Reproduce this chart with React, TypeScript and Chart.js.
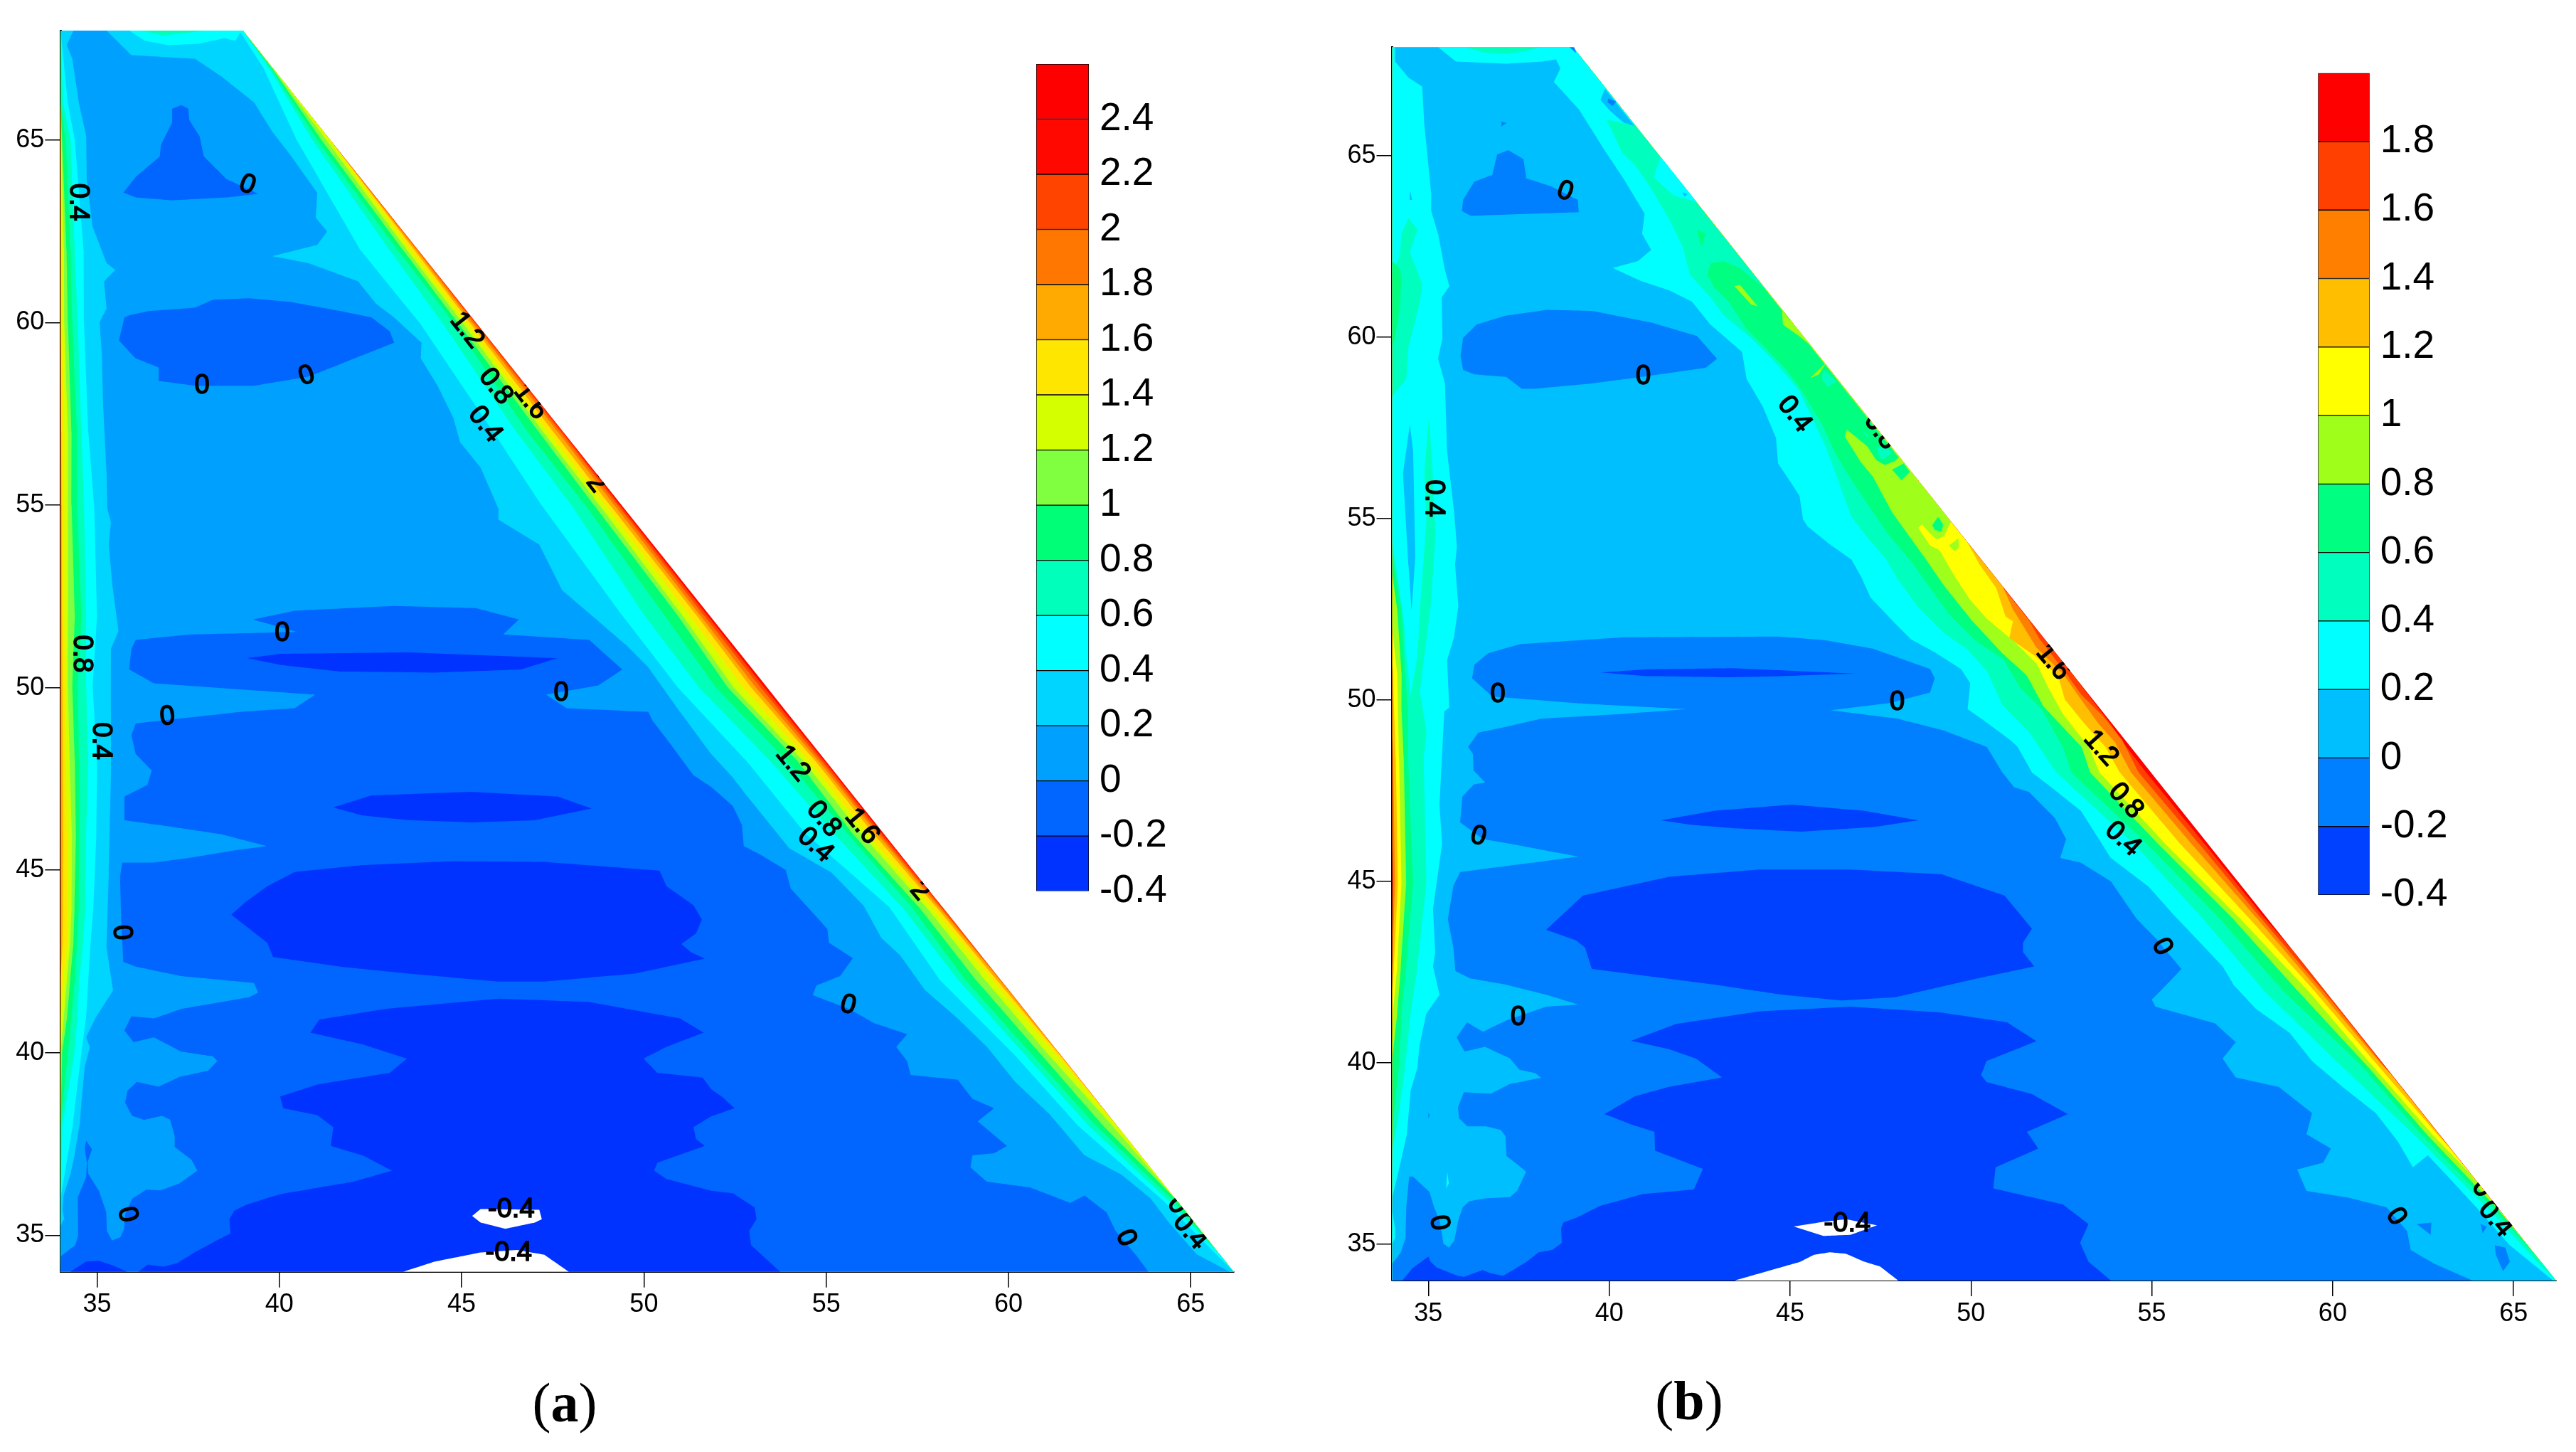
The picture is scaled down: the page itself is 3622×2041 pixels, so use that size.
import React, { useEffect, useRef } from "react";
import { Chart, registerables } from "chart.js";

Chart.register(...registerables);

type P = [number, number];
type L = [string, number, number, number];

const FONT = '"Liberation Sans", Arial, sans-serif';
const xTickValues = [35, 40, 45, 50, 55, 60, 65];
const yTickValues = [35, 40, 45, 50, 55, 60, 65];
const X_MIN = 34;
const X_TIP = 66.18;
const X_TOP = 39;
const Y_MIN = 34;
const Y_MAX = 68;

/* ---------- colour bars ---------- */
const barColorsA = ["#0033ff", "#0066ff", "#00a0ff", "#00d5ff", "#00ffff", "#00ffbb", "#00ff77", "#7fff3f", "#d4ff00", "#ffe600", "#ffaa00", "#ff7700", "#ff4400", "#ff0800", "#ff0000"];
const barColorsB = ["#0040ff", "#0080ff", "#00bfff", "#00ffff", "#00ffbf", "#00ff80", "#9fff1a", "#ffff00", "#ffbf00", "#ff8000", "#ff4000", "#ff0000"];
const barEdgesA = [-0.4, -0.2, 0, 0.2, 0.4, 0.6, 0.8, 1, 1.2, 1.4, 1.6, 1.8, 2, 2.2, 2.4, 2.6];
const barEdgesB = [-0.4, -0.2, 0, 0.2, 0.4, 0.6, 0.8, 1, 1.2, 1.4, 1.6, 1.8, 2];
const barTicksA = [-0.4, -0.2, 0, 0.2, 0.4, 0.6, 0.8, 1, 1.2, 1.4, 1.6, 1.8, 2, 2.2, 2.4];
const barTicksB = [-0.4, -0.2, 0, 0.2, 0.4, 0.6, 0.8, 1, 1.2, 1.4, 1.6, 1.8];

/* ---------- panel (a): contour offsets ---------- */
const aRightY = [68, 67, 65, 62, 60, 57, 55, 52, 50, 48, 46, 44, 42, 40, 38, 36, 34.5, 34];
const aRight04 = [0.1, 0.25, 0.92, 1.58, 1.55, 1.92, 2.2, 2.4, 2.45, 2.18, 2.15, 1.46, 1.67, 1.27, 1.07, 0.39, 0.1, 0];
const aRight06 = [0, 0.1, 0.49, 0.78, 0.93, 1.29, 1.38, 1.79, 1.87, 1.53, 1.37, 1.11, 1.17, 0.98, 0.78, 0.24, 0, 0];
const aRight08 = [0, 0.05, 0.36, 0.56, 0.62, 0.98, 1, 1.24, 1.41, 1.07, 1, 0.85, 0.97, 0.78, 0.58, 0.11, 0, 0];
const aRight10 = [0, 0.02, 0.24, 0.41, 0.5, 0.67, 0.76, 0.88, 1.08, 0.78, 0.86, 0.65, 0.68, 0.53, 0.38, 0, 0, 0];
const aRight12 = [0, 0, 0.11, 0.3, 0.37, 0.55, 0.61, 0.75, 0.92, 0.62, 0.62, 0.45, 0.43, 0.33, 0.13, 0, 0, 0];
const aRight14 = [0, 0, 0, 0.2, 0.27, 0.42, 0.45, 0.55, 0.66, 0.46, 0.47, 0.3, 0.23, 0.13, 0, 0, 0, 0];
const aRight16 = [0, 0, 0, 0.1, 0.17, 0.27, 0.32, 0.36, 0.44, 0.29, 0.29, 0.17, 0.11, 0.03, 0, 0, 0, 0];
const aRight18 = [0, 0, 0, 0.04, 0.1, 0.15, 0.2, 0.26, 0.31, 0.2, 0.19, 0.1, 0.03, 0, 0, 0, 0, 0];
const aRight20 = [0, 0, 0, 0, 0.04, 0.07, 0.11, 0.16, 0.18, 0.12, 0.12, 0.05, 0, 0, 0, 0, 0, 0];
const aRight22 = [0, 0, 0, 0, 0, 0.02, 0.05, 0.07, 0.08, 0.05, 0.05, 0, 0, 0, 0, 0, 0, 0];

const aLeftY = [68, 66, 65, 62, 60, 57, 55, 52, 50, 48, 46, 44, 43, 42, 41, 40, 38, 36, 34];
const aLeft04 = [0, 0.2, 0.39, 0.63, 0.64, 0.76, 0.92, 1, 0.88, 1, 0.98, 0.9, 0.82, 0.76, 0.7, 0.57, 0.33, 0, 0];
const aLeft06 = [0, 0.07, 0.27, 0.39, 0.47, 0.57, 0.64, 0.7, 0.7, 0.76, 0.7, 0.68, 0.61, 0.51, 0.46, 0.38, 0.05, 0, 0];
const aLeft08 = [0, 0, 0.14, 0.27, 0.32, 0.45, 0.45, 0.57, 0.47, 0.51, 0.51, 0.5, 0.45, 0.39, 0.3, 0.2, 0, 0, 0];
const aLeft10 = [0, 0, 0.04, 0.16, 0.2, 0.3, 0.3, 0.39, 0.32, 0.39, 0.42, 0.38, 0.35, 0.26, 0.18, 0.04, 0, 0, 0];
const aLeft12 = [0, 0, 0.02, 0.09, 0.1, 0.2, 0.2, 0.2, 0.2, 0.25, 0.31, 0.3, 0.26, 0.17, 0.09, 0, 0, 0, 0];
const aLeft14 = [0, 0, 0, 0.04, 0.04, 0.1, 0.1, 0.1, 0.12, 0.15, 0.17, 0.17, 0.17, 0.07, 0, 0, 0, 0, 0];
const aLeft16 = [0, 0, 0, 0, 0, 0.02, 0.03, 0.04, 0.05, 0.06, 0.07, 0.06, 0.05, 0, 0, 0, 0, 0, 0];
const aLeft18 = aLeftY.map(() => 0);
const aTop04: P[] = [[35.88, 68], [36.31, 67.72], [36.94, 67.6], [37.8, 67.64], [38.49, 67.79], [38.8, 67.72], [38.93, 67.95]];
const aTop06: P[] = [[36.19, 68], [36.81, 67.87], [37.56, 67.95], [37.93, 68]];

const aLine02: P[] = [[34, 34], [34, 35.25], [34.08, 35.44], [34.11, 35.38], [34.05, 35.7], [34.08, 36.09], [34.27, 36.68], [34.37, 37.13], [34.53, 38.1], [34.57, 38.63], [34.66, 39.6], [34.8, 40.16], [34.7, 40.42], [34.95, 40.94], [35.44, 41.71], [35.26, 42.88], [35.32, 44.95], [35.38, 47.66], [35.38, 49.34], [35.38, 51.06], [35.59, 51.56], [35.42, 52.8], [35.32, 53.92], [35.38, 54.54], [35.28, 54.91], [35.26, 55.91], [35.17, 57.65], [35.13, 59.14], [35.07, 60.01], [35.26, 60.39], [35.19, 61.13], [35.5, 61.44], [35.26, 61.63], [34.88, 62.62], [34.72, 63.87], [34.7, 65.11], [34.51, 65.98], [34.32, 67.23], [34.17, 67.6], [34.35, 68], [35.26, 68], [35.94, 67.33], [37.68, 67.23], [38.43, 66.73], [39.3, 66.04], [39.8, 65.24], [40.29, 64.61], [41.04, 63.56], [41, 62.87], [41.31, 62.5], [41.04, 62.13], [39.8, 61.82], [40.79, 61.63], [42.16, 61.13], [42.66, 60.51], [43.15, 60.14], [43.9, 59.45], [43.88, 59.02], [44.34, 58.27], [44.77, 57.4], [44.96, 56.72], [45.52, 56.03], [46.01, 54.91], [46.01, 54.6], [47.13, 53.92], [47.76, 52.67], [48.63, 51.93], [49.5, 51.18], [50.12, 50.56], [50.99, 49.34], [51.85, 48.18], [52.44, 47.54], [52.84, 47.02], [53.99, 45.6], [55.13, 44.95], [56.02, 44.04], [56.52, 43.14], [57.02, 42.68], [57.72, 41.71], [58.61, 40.94], [59.41, 40.16], [60.2, 39.19], [61.1, 38.35], [62.09, 37.19], [63.09, 36.67], [63.89, 36.02], [64.38, 35.38], [65.18, 34.47], [66.07, 34]];

const aLow0Top: P[] = [[37.31, 65.96], [37.06, 65.86], [37.06, 65.49], [36.75, 64.86], [36.72, 64.55], [36.06, 63.99], [35.72, 63.56], [36.06, 63.43], [37.06, 63.35], [38.55, 63.43], [39.42, 63.53], [38.55, 63.93], [37.93, 64.55], [37.81, 65.11], [37.53, 65.55], [37.5, 65.86]];
const aLow0Mid: P[] = [[35.75, 60.14], [35.6, 59.51], [36.06, 59.02], [36.69, 58.77], [36.69, 58.4], [37.68, 58.27], [39.3, 58.27], [40.79, 58.52], [41.91, 58.96], [43.15, 59.45], [43.03, 59.76], [42.53, 60.14], [41.66, 60.32], [40.29, 60.57], [39.17, 60.67], [38.18, 60.63], [37.68, 60.41], [36.44, 60.32], [35.88, 60.2]];
const aLow0Main: P[] = [[34, 34], [34.01, 34.43], [34.4, 34.73], [34.48, 34.99], [34.47, 36.03], [34.7, 36.6], [34.72, 37], [34.66, 37.39], [34.7, 37.59], [34.86, 37.36], [34.74, 37], [34.76, 36.68], [35.05, 36.22], [35.25, 35.64], [35.27, 35.12], [35.41, 34.86], [35.64, 34.95], [35.74, 35.18], [35.77, 35.57], [35.96, 36], [36.35, 36.25], [36.74, 36.23], [37.26, 36.42], [37.75, 36.77], [37.59, 37.07], [37.13, 37.42], [37.13, 37.72], [37, 38.17], [36.78, 38.27], [36.29, 38.16], [35.96, 38.27], [35.77, 38.63], [35.83, 38.95], [36.09, 39.2], [36.68, 39.07], [37.26, 39.34], [38.05, 39.51], [38.3, 39.77], [38.18, 39.9], [37.31, 40.03], [36.56, 40.42], [36, 40.29], [35.75, 40.61], [35.94, 41], [36.56, 40.94], [37.31, 41.2], [39.17, 41.52], [39.42, 41.65], [39.3, 41.91], [37.31, 42.1], [36.06, 42.36], [35.72, 42.49], [35.67, 43.4], [35.63, 44.82], [35.69, 45.21], [36.56, 45.21], [37.56, 45.34], [38.68, 45.53], [39.67, 45.66], [38.43, 45.98], [36.69, 46.24], [35.75, 46.37], [35.75, 47.02], [36.38, 47.34], [36.5, 47.73], [36.06, 48.18], [35.94, 48.7], [36.06, 49.02], [39.05, 49.35], [40.42, 49.44], [40.98, 49.81], [36.56, 50.12], [35.88, 50.5], [35.94, 51.06], [36.06, 51.31], [37.56, 51.46], [40.48, 51.53], [39.27, 51.87], [40.42, 52.11], [43.15, 52.24], [45.39, 52.18], [46.57, 51.87], [46.14, 51.46], [48.5, 51.31], [49.41, 50.5], [48.75, 50.06], [47.32, 49.81], [47.88, 49.44], [50.12, 49.34], [50.24, 49.09], [50.74, 48.44], [51.36, 47.6], [51.85, 47.28], [52.44, 46.76], [52.69, 46.24], [52.74, 45.66], [53.24, 45.4], [53.89, 45.01], [54.03, 44.5], [55.03, 43.4], [55.08, 43.01], [55.73, 42.59], [55.38, 42.1], [54.73, 41.84], [54.63, 41.58], [55.63, 41.2], [56.32, 40.81], [57.22, 40.51], [56.92, 40.16], [57.22, 39.77], [57.32, 39.39], [58.61, 39.26], [59.01, 38.74], [59.61, 38.48], [59.16, 38.12], [59.96, 37.45], [59.61, 37.25], [59.01, 37.19], [58.96, 36.86], [59.41, 36.47], [60.6, 36.31], [61.7, 35.89], [62.09, 36.09], [62.69, 35.63], [62.94, 35.12], [63.49, 34.47], [63.84, 34]];

const aDeepThin: P[] = [[39.11, 50.81], [40.04, 50.93], [43.53, 50.97], [47.63, 50.81], [46.64, 50.5], [44.15, 50.41], [41.66, 50.44], [40.04, 50.62]];
const aDeepLens: P[] = [[41.48, 46.72], [42.53, 47.05], [45.27, 47.15], [47.63, 47.02], [48.56, 46.69], [47.01, 46.37], [45.27, 46.31], [43.53, 46.37], [42.28, 46.5]];
const aDeepBlob: P[] = [[38.68, 43.78], [39.05, 44.11], [39.67, 44.56], [40.42, 44.95], [42.28, 45.14], [44.77, 45.25], [47.26, 45.23], [50.43, 44.99], [50.62, 44.56], [51.36, 44.04], [51.59, 43.65], [51.43, 43.27], [51.03, 42.98], [51.3, 42.75], [51.67, 42.58], [49.75, 42.17], [47.26, 41.95], [46.01, 41.95], [43.53, 42.17], [41.66, 42.36], [39.83, 42.62], [39.67, 43.01], [39.17, 43.4]];
const aDeepMain: P[] = [[41.1, 40.91], [42.91, 41.2], [46.01, 41.48], [48.5, 41.39], [50.99, 40.94], [51.64, 40.55], [50.62, 40.16], [49.99, 39.84], [50.37, 39.45], [51.61, 39.32], [51.85, 39], [52.14, 38.8], [52.49, 38.48], [51.85, 38.26], [51.36, 37.96], [51.43, 37.64], [51.67, 37.45], [50.37, 36.99], [50.28, 36.77], [50.62, 36.54], [51.84, 36.22], [52.44, 36.15], [53.04, 35.76], [53.09, 35.44], [52.89, 35.12], [52.94, 34.73], [53.74, 34], [36.13, 34], [36.39, 34.2], [36.81, 34.14], [37.2, 34.24], [37.72, 34.56], [38.17, 34.8], [38.66, 35.05], [38.63, 35.44], [38.76, 35.67], [39.08, 35.83], [39.73, 36.04], [40.04, 36.13], [42.04, 36.47], [43.09, 36.77], [42.28, 37.19], [41.41, 37.45], [41.48, 37.96], [41.04, 38.29], [40.11, 38.48], [40.02, 38.8], [41.04, 39.13], [43.03, 39.45], [43.5, 39.84], [42.28, 40.23], [40.85, 40.55]];
const aDeepCorner: P[] = [[34.27, 34], [34.7, 34.28], [35.05, 34.3], [35.44, 34.17], [35.83, 34]];
const aHoleUpper: P[] = [[45.29, 35.53], [45.52, 35.72], [47.13, 35.7], [47.2, 35.44], [47.01, 35.35], [46.2, 35.18], [45.52, 35.35]];
const aHoleLower: P[] = [[43.4, 34], [44.27, 34.28], [45.52, 34.53], [46.51, 34.6], [47.26, 34.47], [47.94, 34]];

const aLabels: L[] = [["0.4", 34.47, 63.3, 90], ["0", 39.12, 63.77, 22], ["1.2", 45.14, 59.79, 52], ["0", 37.88, 58.26, 0], ["0", 40.75, 58.54, -18], ["0.8", 45.93, 58.25, 52], ["1.6", 46.89, 57.84, 52], ["0.4", 45.64, 57.21, 52], ["2", 48.69, 55.6, 52], ["0", 40.08, 51.48, 0], ["0.8", 34.57, 50.93, 90], ["0", 47.73, 49.84, 0], ["0", 36.93, 49.2, -5], ["0.4", 35.09, 48.54, 90], ["0", 35.67, 43.29, 85], ["0", 35.82, 35.57, 78], ["-0.4", 46.36, 35.7, 0], ["-0.4", 46.29, 34.51, 0], ["1.2", 54.08, 47.92, 50], ["0.8", 54.93, 46.4, 50], ["1.6", 55.98, 46.2, 50], ["0.4", 54.7, 45.69, 42], ["2", 57.57, 44.43, 50], ["0", 55.6, 41.3, 15], ["0", 63.22, 34.92, 65], ["0.4", 64.98, 35.1, 50], ["0", 64.63, 35.83, 55]];

/* ---------- panel (b): contours ---------- */
const bLeft04: P[] = [[34, 36.9], [34.01, 37.6], [34.18, 38.57], [34.36, 39.88], [34.51, 41.35], [34.7, 42.66], [34.95, 45], [34.87, 48.4], [34.95, 49.13], [34.77, 50.23], [34.89, 51.23], [35.08, 52.73], [35.2, 54.6], [35.12, 56.23], [35.02, 57.85], [34.89, 56.23], [34.95, 54.98], [34.77, 52.48], [34.7, 51.23], [34.51, 50.1], [34.39, 51.23], [34.33, 52.1], [34.14, 53.48], [34, 54.35], [34, 58.35], [34.08, 58.48], [34.39, 58.85], [34.45, 59.73], [34.77, 60.98], [34.83, 61.48], [34.49, 62.35], [34.7, 62.98], [34.45, 63.29], [34.26, 62.85], [34.2, 62.23], [34, 61.73]];
const bLeft06: P[] = [[34, 37.6], [34.05, 38.57], [34.2, 40.05], [34.26, 41.35], [34.39, 42.66], [34.58, 45], [34.44, 48.4], [34.44, 49.69], [34.36, 50.73], [34.26, 52.48], [34, 54]];
const bLeft08: P[] = [[34, 40.05], [34.14, 41.35], [34.24, 42.66], [34.39, 45], [34.32, 48.4], [34.26, 49.69], [34.26, 50.73], [34.14, 52.48], [34, 53.5]];
const bLeft10: P[] = [[34, 40.5], [34.02, 41.35], [34.14, 42.66], [34.26, 45], [34.19, 48.4], [34.14, 50.73], [34, 52]];
const bLeft12: P[] = [[34, 42], [34.05, 42.66], [34.16, 45], [34.1, 48.4], [34.02, 50.73], [34, 51]];
const bLeft14: P[] = [[34, 42.6], [34.02, 43], [34.08, 45], [34.03, 48.4], [34, 49]];
const bLeft16: P[] = [[34, 43.5], [34.03, 45], [34, 46]];
const bLeft18: P[] = [];

const bTop04: P[] = [[36.02, 68], [36.52, 67.85], [37.15, 67.81], [37.65, 67.88], [38.09, 68]];

const bRight04: P[] = [[39, 68], [40.73, 65.83], [39.93, 66], [40.35, 65.1], [40.73, 64.73], [41.16, 64.1], [41.67, 63.23], [42.04, 62.48], [42.23, 61.73], [42.8, 61.1], [43.17, 60.6], [43.92, 59.98], [44.43, 59.48], [44.99, 58.85], [45.26, 58.51], [45.98, 57], [46.7, 55.05], [47.1, 54.52], [47.62, 53.93], [48.01, 53.28], [48.54, 52.56], [49.26, 51.84], [49.91, 51.39], [50.44, 50.8], [50.86, 49.88], [51.16, 49.56], [51.62, 49.1], [51.88, 48.71], [52.37, 48], [54.54, 46], [56.39, 44], [58.09, 42], [60.15, 40], [62.27, 38], [64.28, 36], [65.67, 34.5]];
const bRight06: P[] = [[39, 68], [44.36, 61.29], [43.61, 61.91], [43.17, 62.1], [42.8, 62.04], [42.71, 61.73], [42.92, 61.35], [43.3, 60.98], [43.8, 60.23], [44.3, 59.73], [44.9, 59.1], [45.33, 58.51], [45.85, 57.66], [46.28, 56.75], [46.77, 55.96], [47.29, 55.18], [47.75, 54.52], [48.41, 53.74], [48.87, 53.09], [49.39, 52.37], [50.11, 51.65], [50.9, 51.12], [51.36, 50.34], [51.95, 49.75], [52.54, 48.71], [52.78, 48], [54.9, 46], [56.86, 44], [58.61, 42], [60.72, 40], [62.47, 38], [64.43, 36], [65.78, 34.5]];
const bRight08: P[] = [[39, 68], [48.01, 56.69], [47.88, 56.58], [47.62, 56.48], [47.39, 56.61], [47.13, 57], [46.57, 57.46], [46.51, 57.27], [46.96, 56.55], [47.29, 56.16], [47.82, 55.18], [48.67, 54], [49.26, 53.15], [50.05, 52.17], [50.9, 51.26], [51.55, 50.67], [52.01, 49.82], [53.06, 48.71], [53.3, 48], [55.21, 46], [57.22, 44], [59.02, 42], [60.88, 40], [62.63, 38], [64.54, 36], [65.2, 35.2]];
const bRight10: P[] = [[39, 68], [49.45, 54.93], [49.26, 54.52], [49.06, 54.42], [48.87, 54.59], [48.64, 54.85], [48.54, 54.75], [48.87, 54.26], [49.13, 54.13], [49.59, 53.35], [49.98, 52.76], [50.44, 52.24], [51.23, 51.58], [51.82, 51], [52.14, 50.34], [52.54, 49.62], [53.26, 48.71], [53.56, 48], [55.41, 46], [57.42, 44], [59.31, 42], [61.03, 40], [62.78, 38], [63.75, 37]];
const bRight12: P[] = [[39, 68], [49.88, 54.39], [50.24, 53.74], [50.7, 53.09], [50.96, 52.3], [51.16, 52.17], [51.06, 51.71], [51.81, 51.19], [52.41, 50.67], [52.6, 50.01], [53.13, 49.36], [53.72, 48.71], [54.12, 48], [55.82, 46], [57.68, 44], [59.48, 42], [61.19, 40], [62.92, 38], [63.2, 37.7]];
const bRight14: P[] = [[39, 68], [50.87, 53.15], [51.16, 52.5], [51.49, 51.97], [51.81, 51.45], [52.54, 50.73], [53, 50.08], [53.52, 49.36], [53.98, 48.84], [54.43, 48], [56.13, 46], [57.89, 44], [59.62, 42], [61.31, 40], [61.6, 39.7]];
const bRight16: P[] = [[39, 68], [51.58, 52.24], [51.88, 51.71], [52.54, 50.86], [53.06, 50.14], [53.65, 49.56], [54.18, 48.9], [54.64, 48], [56.34, 46], [58.01, 44], [59.72, 42], [60.3, 41.3]];
const bRight18: P[] = [[39, 68], [52.8, 50.73], [53.19, 50.21], [53.85, 49.36], [54.3, 48.71], [54.85, 48], [56.49, 46], [58.11, 44], [58.98, 43]];

const bLine02: P[] = [[34, 34], [34, 35.96], [34.01, 36.29], [34.28, 37.46], [34.41, 38.05], [34.51, 39.23], [34.7, 39.88], [34.75, 40.44], [34.94, 41.35], [35.31, 41.88], [35.13, 42.66], [35.19, 43.05], [35.13, 44.22], [35.38, 46.04], [35.31, 47.08], [35.44, 49.69], [35.58, 49.79], [35.52, 51.1], [35.71, 51.73], [35.83, 52.6], [35.74, 53.73], [35.79, 54.23], [35.71, 55.23], [35.52, 56.85], [35.46, 58.73], [35.27, 59.41], [35.39, 59.98], [35.37, 61.1], [35.58, 61.41], [35.46, 61.85], [35.27, 62.85], [35.08, 63.48], [35.08, 63.98], [34.89, 65.85], [34.83, 66.91], [34.45, 67.16], [34.08, 67.6], [34.08, 68], [35.27, 68], [35.77, 67.6], [37.15, 67.54], [38.15, 67.6], [38.53, 67.66], [38.65, 67.41], [38.47, 67.04], [39.16, 66.29], [39.91, 65.1], [40.41, 64.35], [40.98, 63.41], [40.91, 62.85], [41.16, 62.41], [40.79, 62.1], [40.1, 61.91], [40.91, 61.54], [41.67, 61.29], [42.29, 60.98], [42.8, 60.35], [43.67, 59.6], [43.8, 58.85], [44.24, 58.1], [44.61, 57.23], [44.67, 56.52], [45, 56.03], [45.26, 55.63], [45.36, 54.98], [45.49, 54.78], [46.05, 54.33], [46.7, 53.87], [46.96, 53.41], [47.23, 52.82], [47.88, 52.14], [48.34, 51.68], [49, 51.32], [49.72, 50.86], [49.98, 50.47], [49.91, 49.75], [50.37, 49.43], [51.09, 48.9], [51.29, 48.71], [51.7, 47.99], [52.22, 47.6], [53.04, 46.95], [53.87, 45.65], [54.9, 44.87], [55.72, 43.96], [56.34, 43.31], [56.96, 42.66], [57.27, 42.14], [57.89, 41.48], [58.81, 40.83], [59.43, 40.05], [60.36, 39.27], [61.19, 38.62], [61.8, 37.84], [62.22, 37.12], [62.63, 37.45], [63.25, 36.8], [63.97, 36.02], [64.9, 34.97], [66.1, 34]];

const bLow0Top: P[] = [[37.21, 65.16], [36.9, 65.04], [36.77, 64.48], [36.27, 64.29], [35.96, 63.79], [35.93, 63.48], [36.17, 63.35], [39.16, 63.45], [39.13, 63.79], [38.4, 64.16], [37.71, 64.38], [37.63, 64.91]];
const bLow0Mid: P[] = [[35.89, 59.48], [35.96, 59.98], [36.33, 60.35], [37.15, 60.6], [38.28, 60.76], [39.53, 60.73], [41.16, 60.41], [42.42, 60.04], [42.98, 59.41], [42.67, 59.16], [40.91, 58.91], [39.53, 58.73], [37.9, 58.58], [37.59, 58.58], [37.15, 58.91], [36.27, 58.98], [35.96, 59.1]];
const bLow0Main: P[] = [[34, 34], [34, 34.46], [34.24, 34.78], [34.37, 35.17], [34.39, 36.02], [34.47, 36.87], [34.57, 36.87], [35.03, 36.45], [35.16, 36.02], [35.32, 35.63], [35.36, 35.37], [35.42, 35.01], [35.57, 34.91], [35.72, 35.11], [35.82, 35.63], [35.95, 36.02], [36.14, 36.19], [36.6, 36.27], [37.26, 36.3], [37.46, 36.48], [37.7, 37], [37.46, 37.2], [37.16, 37.43], [37.13, 37.98], [37, 38.15], [36.6, 38.25], [36.08, 38.25], [35.85, 38.47], [35.82, 38.77], [35.98, 39.19], [36.34, 39.17], [36.73, 39.15], [37.26, 39.42], [38.11, 39.59], [37.95, 39.72], [37.52, 39.81], [37.26, 40.12], [36.57, 40.44], [36, 40.31], [35.78, 40.7], [36.07, 41.12], [36.51, 40.86], [37.13, 41.16], [38.26, 41.55], [39.14, 41.61], [38.26, 41.88], [37.13, 42.16], [36.15, 42.33], [35.75, 42.53], [35.69, 43.18], [35.54, 43.96], [35.69, 44.87], [35.88, 45.26], [37.89, 45.52], [39.14, 45.69], [38.26, 45.85], [37.26, 46.04], [36.51, 46.17], [35.88, 46.63], [35.94, 47.34], [36.25, 47.67], [36.57, 47.73], [36.25, 48.06], [36.23, 48.52], [36.1, 48.71], [36.38, 49.1], [37, 49.23], [38.14, 49.49], [40.4, 49.62], [42.17, 49.75], [39.16, 49.91], [36.77, 50.1], [36.21, 50.6], [36.27, 50.97], [36.65, 51.29], [37.53, 51.54], [40.41, 51.73], [44.67, 51.75], [45.98, 51.65], [47.29, 51.42], [48.87, 50.86], [49, 50.6], [48.87, 50.21], [47.75, 49.92], [46.11, 49.72], [47.95, 49.49], [49.26, 49.16], [50.44, 48.71], [50.88, 47.99], [51.19, 47.6], [51.6, 47.47], [52.32, 46.75], [52.63, 46.17], [52.47, 45.65], [53.04, 45.52], [53.87, 45], [54.59, 43.96], [55.1, 43.44], [55.82, 42.59], [55.52, 42.27], [55, 41.74], [55.1, 41.55], [56.75, 41.09], [57.32, 40.57], [56.96, 40.12], [57.32, 39.6], [58.51, 39.34], [59.43, 38.62], [59.28, 38.03], [59.95, 37.64], [59.74, 37.25], [59.02, 37.06], [59.28, 36.47], [60.46, 36.28], [61.49, 36.02], [62.06, 35.36], [62.16, 34.84], [62.84, 34.45], [63.87, 34]];

const bDeepThin: P[] = [[39.76, 50.76], [41.04, 50.85], [43.42, 50.88], [46.83, 50.73], [44.8, 50.66], [43.3, 50.63], [41.04, 50.66]];
const bDeepLens: P[] = [[41.42, 46.69], [42.9, 46.95], [45.04, 47.12], [47.05, 46.95], [48.55, 46.69], [47.3, 46.5], [45.29, 46.37], [43.53, 46.46], [42.28, 46.56]];
const bDeepBlob: P[] = [[38.26, 43.67], [39.27, 44.61], [41.65, 45.13], [44.16, 45.33], [46.67, 45.33], [49.18, 45.2], [50.93, 44.61], [51.69, 43.7], [51.44, 43.31], [51.44, 43.05], [51.75, 42.66], [50.18, 42.33], [47.92, 41.81], [46.42, 41.72], [44.79, 41.88], [42.9, 42.16], [39.52, 42.59], [39.33, 43.18], [39.08, 43.38]];
const bDeepMain: P[] = [[40.61, 40.61], [41.84, 41.07], [44.16, 41.42], [46.67, 41.55], [49.18, 41.39], [51, 41.12], [51.81, 40.6], [50.43, 40.05], [50.28, 39.66], [50.43, 39.47], [51.69, 39.14], [52.68, 38.59], [51.55, 38.1], [51.86, 37.64], [50.68, 37.12], [50.62, 36.54], [52.54, 36.1], [53.25, 35.56], [53.02, 35.04], [53.25, 34.52], [53.87, 34], [34.28, 34], [34.54, 34.32], [35, 34.66], [35.06, 34.52], [35.23, 34.36], [35.82, 34.13], [35.98, 34.1], [36.5, 34.29], [36.73, 34.2], [37.06, 34.13], [37.39, 34.32], [37.72, 34.52], [38.05, 34.78], [38.44, 34.85], [38.69, 35.04], [38.67, 35.44], [38.73, 35.6], [39.09, 35.73], [39.75, 36.06], [40.9, 36.38], [42.34, 36.51], [42.59, 37.08], [41.27, 37.58], [41.25, 38.1], [40.65, 38.29], [39.87, 38.59], [40.71, 39.08], [41.65, 39.34], [43.12, 39.6], [42.4, 40.12], [41.65, 40.38]];
const bHoleUpper: P[] = [[45.1, 35.49], [45.79, 35.6], [46.54, 35.69], [47.4, 35.52], [46.67, 35.26], [45.92, 35.23]];
const bHoleLower: P[] = [[43.47, 34], [45.29, 34.52], [45.66, 34.71], [46.1, 34.78], [46.54, 34.74], [47.05, 34.52], [47.48, 34.39], [47.99, 34]];

/* small islands of panel (b), each with its band index in barColorsB */
const bIslands: [number, P[]][] = [
  [2, [[34.49, 57.6], [34.3, 56.23], [34.45, 53.73], [34.54, 52.48], [34.64, 53.98], [34.58, 56.85]]],
  [2, [[34.5, 64.04], [34.55, 63.79], [34.48, 63.79]]],
  [5, [[34, 62.1], [34.2, 61.91], [34.26, 61.6], [34.2, 60.73], [34.08, 59.98], [34, 59.73]]],
  [2, [[39.88, 66.85], [39.76, 66.54], [40.04, 66.23], [40.41, 65.91], [40.69, 65.83]]],
  [1, [[39.97, 66.58], [40.19, 66.5], [40.1, 66.38], [39.95, 66.48]]],
  [1, [[38.9, 68], [39.03, 68], [39.09, 67.83]]],
  [3, [[41.42, 64.98], [41.23, 64.41], [41.79, 63.91], [42.42, 63.73]]],
  [2, [[42.02, 64], [42.17, 63.95], [42.08, 63.88]]],
  [5, [[42.42, 62.98], [42.67, 62.85], [42.54, 62.48]]],
  [6, [[43.46, 61.41], [43.61, 61.45], [44.11, 60.85], [43.92, 60.91]]],
  [6, [[44.78, 60.73], [44.99, 60.48], [45.62, 59.73], [45.24, 60.04], [44.8, 60.35]]],
  [6, [[45.56, 58.88], [45.99, 59.29], [45.8, 58.98]]],
  [4, [[45.93, 59.1], [46.28, 58.79], [46.06, 58.63], [45.87, 58.85]]],
  [4, [[47.03, 57.4], [47.21, 57.27], [47.1, 57.27]]],
  [4, [[47.42, 56.94], [47.62, 57.04], [47.82, 56.81], [47.55, 56.61], [47.42, 56.78]]],
  [5, [[47.82, 56.35], [48.14, 56.52], [48.31, 56.29], [48.08, 56.06]]],
  [5, [[48.93, 54.82], [49.09, 55.05], [49.23, 54.85], [49.19, 54.65], [49, 54.69]]],
  [6, [[49.39, 54.26], [49.65, 54.46], [49.68, 54.23], [49.55, 54.1]]],
  [3, [[35.52, 37], [35.57, 36.68], [35.49, 36.53]]],
  [1, [[35, 38.64], [35.04, 38.55], [35, 38.47]]],
  [3, [[34, 35.96], [34.08, 35.45], [34.08, 35.17], [34, 35]]],
  [1, [[37.02, 65.95], [37.17, 65.91], [37.02, 65.81]]],
  [1, [[62.32, 35.56], [62.73, 35.6], [62.71, 35.26]]],
  [1, [[64.48, 34.97], [64.77, 34.91], [64.9, 34.52], [64.71, 34.26], [64.51, 34.71]]],
  [1, [[64.09, 35.56], [64.26, 35.49], [64.15, 35.3]]],
];

const bLabels: L[] = [["0", 38.78, 64.02, 20], ["0", 40.94, 58.91, 0], ["0.4", 45.12, 57.88, 52], ["0.4", 35.14, 55.56, 90], ["0.8", 47.5, 57.41, 55], ["1.6", 52.27, 51.04, 50], ["0", 36.92, 50.14, 0], ["0", 47.96, 49.94, 0], ["0", 36.38, 46.24, 15], ["0", 37.48, 41.25, 0], ["0", 35.29, 35.59, 80], ["-0.4", 46.58, 35.56, 0], ["1.2", 53.59, 48.67, 48], ["0.8", 54.28, 47.22, 48], ["0.4", 54.2, 46.17, 42], ["0", 55.28, 43.2, 62], ["0", 61.75, 35.76, 58], ["0.4", 64.5, 35.69, 50], ["0", 64.12, 36.54, 55]];

/* ---------- helpers ---------- */
const hyp = (y: number) => X_TOP + ((Y_MAX - y) * (X_TIP - X_TOP)) / (Y_MAX - Y_MIN);
const trapezoid: P[] = [[X_MIN, Y_MIN], [X_MIN, Y_MAX], [X_TOP, Y_MAX], [X_TIP, Y_MIN]];

function bandA(left: number[], right: number[], top: P[] = []): P[] {
  const pts: P[] = [];
  for (let i = aLeftY.length - 1; i >= 0; i--) pts.push([X_MIN + left[i], aLeftY[i]]);
  pts.push(...top);
  for (let i = 0; i < aRightY.length; i++) pts.push([hyp(aRightY[i]) - right[i], aRightY[i]]);
  return pts;
}
function bandB(left: P[], right: P[], top: P[] = []): P[] {
  return [[X_MIN, Y_MIN], ...left, [X_MIN, Y_MAX], ...top, ...right, [X_TIP, Y_MIN]];
}

const ds = (pts: P[], color: string) => ({
  data: pts.map(([x, y]) => ({ x, y })),
  showLine: true,
  fill: "shape",
  backgroundColor: color,
  borderColor: color,
  borderWidth: 0,
  pointRadius: 0,
  tension: 0.001,
});

const paintA: [P[], string][] = [
  [trapezoid, barColorsA[13]],
  [bandA(aLeft18, aRight22), barColorsA[12]],
  [bandA(aLeft18, aRight20), barColorsA[11]],
  [bandA(aLeft18, aRight18), barColorsA[10]],
  [bandA(aLeft16, aRight16), barColorsA[9]],
  [bandA(aLeft14, aRight14), barColorsA[8]],
  [bandA(aLeft12, aRight12), barColorsA[7]],
  [bandA(aLeft10, aRight10), barColorsA[6]],
  [bandA(aLeft08, aRight08), barColorsA[5]],
  [bandA(aLeft06, aRight06, aTop06), barColorsA[4]],
  [bandA(aLeft04, aRight04, aTop04), barColorsA[3]],
  [aLine02, barColorsA[2]],
  [aLow0Top, barColorsA[1]],
  [aLow0Mid, barColorsA[1]],
  [aLow0Main, barColorsA[1]],
  [aDeepThin, barColorsA[0]],
  [aDeepLens, barColorsA[0]],
  [aDeepBlob, barColorsA[0]],
  [aDeepMain, barColorsA[0]],
  [aDeepCorner, barColorsA[0]],
  [aHoleUpper, "#ffffff"],
  [aHoleLower, "#ffffff"],
];

const paintB: [P[], string][] = [
  [trapezoid, barColorsB[11]],
  [bandB(bLeft18, bRight18), barColorsB[10]],
  [bandB(bLeft16, bRight16), barColorsB[9]],
  [bandB(bLeft14, bRight14), barColorsB[8]],
  [bandB(bLeft12, bRight12), barColorsB[7]],
  [bandB(bLeft10, bRight10), barColorsB[6]],
  [bandB(bLeft08, bRight08), barColorsB[5]],
  [bandB(bLeft06, bRight06), barColorsB[4]],
  [bandB(bLeft04, bRight04, bTop04), barColorsB[3]],
  [bLine02, barColorsB[2]],
  [bLow0Top, barColorsB[1]],
  [bLow0Mid, barColorsB[1]],
  [bLow0Main, barColorsB[1]],
  [bDeepThin, barColorsB[0]],
  [bDeepLens, barColorsB[0]],
  [bDeepBlob, barColorsB[0]],
  [bDeepMain, barColorsB[0]],
  [bHoleUpper, "#ffffff"],
  [bHoleLower, "#ffffff"],
  ...bIslands.map(([i, pts]) => [pts, barColorsB[i]] as [P[], string]),
];

function contourChart(canvas: HTMLCanvasElement, paint: [P[], string][], labels: L[], box: { left: number; top: number; right: number; bottom: number }) {
  const labelPlugin = {
    id: "contourLabels",
    afterDatasetsDraw(chart: any) {
      const { ctx, scales } = chart;
      const px = (v: number) => scales.x.getPixelForValue(v);
      const py = (v: number) => scales.y.getPixelForValue(v);
      ctx.save();
      ctx.beginPath();
      trapezoid.forEach(([x, y], i) => (i ? ctx.lineTo(px(x), py(y)) : ctx.moveTo(px(x), py(y))));
      ctx.closePath();
      ctx.clip();
      ctx.fillStyle = "#000";
      ctx.strokeStyle = "#000";
      ctx.lineWidth = 1.6;
      ctx.font = `38px ${FONT}`;
      ctx.textAlign = "center";
      ctx.textBaseline = "middle";
      for (const [text, x, y, rot] of labels) {
        ctx.save();
        ctx.translate(px(x), py(y));
        ctx.rotate((rot * Math.PI) / 180);
        ctx.fillText(text, 0, 0);
        ctx.strokeText(text, 0, 0);
        ctx.restore();
      }
      ctx.restore();
    },
  };
  const axis = (values: number[]) => ({
    type: "linear",
    afterBuildTicks: (s: any) => {
      s.ticks = values.map((value) => ({ value }));
    },
    grid: { display: true, drawOnChartArea: false, drawTicks: true, tickLength: 22, color: "#000", lineWidth: 1.5 },
    ticks: { color: "#000", font: { family: FONT, size: 36 }, autoSkip: false, maxRotation: 0, minRotation: 0, callback: (v: number) => String(v) },
  });
  return new Chart(canvas, {
    type: "scatter",
    data: { datasets: [...paint].reverse().map(([pts, color]) => ds(pts, color)) as any },
    options: {
      animation: false,
      responsive: false,
      devicePixelRatio: 1,
      events: [],
      layout: { padding: { left: 0, top: box.top, right: box.right, bottom: 0 } },
      plugins: { legend: { display: false }, tooltip: { enabled: false }, title: { display: false } },
      scales: {
        x: {
          ...axis(xTickValues),
          min: X_MIN,
          max: X_TIP,
          border: { display: true, color: "#000", width: 2 },
          ticks: { ...axis(xTickValues).ticks, padding: 3 },
          afterFit: (s: any) => {
            s.height = box.bottom;
          },
        },
        y: {
          ...axis(yTickValues),
          min: Y_MIN,
          max: Y_MAX,
          border: { display: true, color: "#000", width: 3 },
          ticks: { ...axis(yTickValues).ticks, padding: 1 },
          afterFit: (s: any) => {
            s.width = box.left;
          },
        },
      } as any,
    },
    plugins: [labelPlugin],
  } as any);
}

function colorBar(canvas: HTMLCanvasElement, colors: string[], edges: number[], ticks: number[], box: { left: number; top: number; right: number; bottom: number }) {
  return new Chart(canvas, {
    type: "bar",
    data: {
      labels: ["band"],
      datasets: colors.map((color, i) => ({
        data: [[edges[i], edges[i + 1]]],
        backgroundColor: color,
        borderColor: "#000",
        borderWidth: 1,
        borderSkipped: false,
        barPercentage: 1,
        categoryPercentage: 1,
        grouped: false,
      })) as any,
    },
    options: {
      animation: false,
      responsive: false,
      devicePixelRatio: 1,
      events: [],
      layout: { padding: { left: box.left, top: box.top, right: 0, bottom: box.bottom } },
      plugins: { legend: { display: false }, tooltip: { enabled: false } },
      scales: {
        x: { display: false, stacked: false },
        y: {
          position: "right",
          min: edges[0],
          max: edges[edges.length - 1],
          grid: { display: false, drawTicks: false },
          border: { display: false },
          afterBuildTicks: (s: any) => {
            s.ticks = ticks.map((value) => ({ value }));
          },
          ticks: { color: "#000", padding: 15, autoSkip: false, font: { family: FONT, size: 55 }, callback: (v: number) => String(v) },
          afterFit: (s: any) => {
            s.width = box.right;
          },
        },
      } as any,
    },
  } as any);
}

const abs = (left: number, top: number): React.CSSProperties => ({ position: "absolute", left, top, display: "block" });

export default function App() {
  const a = useRef<HTMLCanvasElement>(null);
  const b = useRef<HTMLCanvasElement>(null);
  const ca = useRef<HTMLCanvasElement>(null);
  const cb = useRef<HTMLCanvasElement>(null);
  useEffect(() => {
    const charts = [
      contourChart(a.current!, paintA, aLabels, { left: 85.3, top: 43, right: 1760 - 1734.7, bottom: 1880 - 1787.7 }),
      contourChart(b.current!, paintB, bLabels, { left: 1957.5 - 1880, top: 66.2, right: 3610 - 3594.2, bottom: 1880 - 1800 }),
      colorBar(ca.current!, barColorsA, barEdgesA, barTicksA, { left: 17, top: 90, right: 1740 - 1531, bottom: 1340 - 1252.6 }),
      colorBar(cb.current!, barColorsB, barEdgesB, barTicksB, { left: 19.3, top: 102.7, right: 3540 - 3331.7, bottom: 1340 - 1258 }),
    ];
    return () => charts.forEach((c) => c.destroy());
  }, []);
  const caption: React.CSSProperties = { position: "absolute", transform: "translate(-50%,-50%)", fontFamily: '"Liberation Serif", serif', fontSize: 78, lineHeight: 1, color: "#000", whiteSpace: "nowrap" };
  return (
    <div style={{ position: "absolute", left: 0, top: 0, width: 3622, height: 2041, background: "#fff", overflow: "hidden" }}>
      <canvas ref={a} width={1760} height={1880} style={abs(0, 0)} />
      <canvas ref={b} width={1730} height={1880} style={abs(1880, 0)} />
      <canvas ref={ca} width={300} height={1340} style={abs(1440, 0)} />
      <canvas ref={cb} width={300} height={1340} style={abs(3240, 0)} />
      <div style={{ ...caption, left: 794, top: 1972 }}>(<b>a</b>)</div>
      <div style={{ ...caption, left: 2375, top: 1969 }}>(<b>b</b>)</div>
    </div>
  );
}
